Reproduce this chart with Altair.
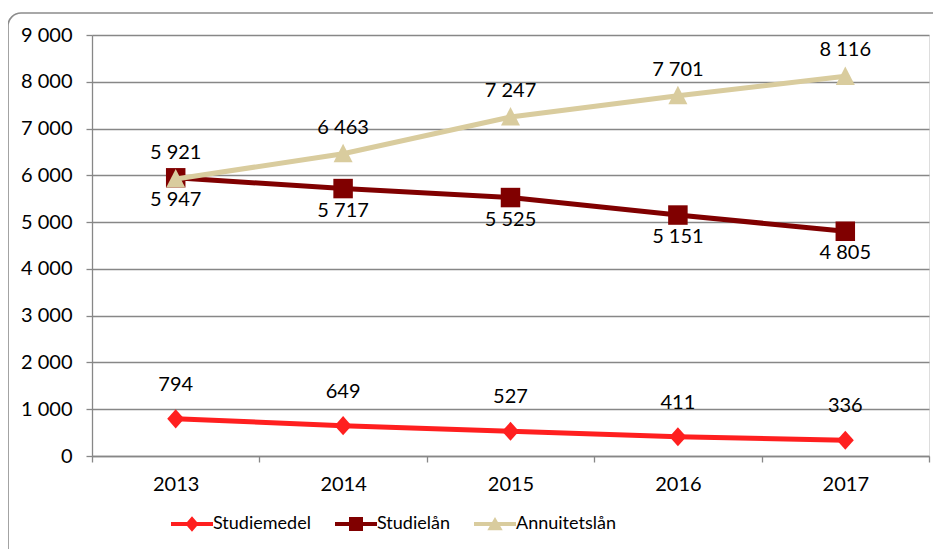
import altair as alt
import pandas as pd

years = ["2013", "2014", "2015", "2016", "2017"]
studiemedel = [794, 649, 527, 411, 336]
studielan = [5947, 5717, 5525, 5151, 4805]
annuitetslan = [5921, 6463, 7247, 7701, 8116]
series_names = ["Studiemedel", "Studielån", "Annuitetslån"]
colors = ["#FF1F1F", "#800000", "#D9CC9E"]
y_ticks = [0, 1000, 2000, 3000, 4000, 5000, 6000, 7000, 8000, 9000]

rows = []
for name, vals in zip(series_names, [studiemedel, studielan, annuitetslan]):
    for yr, v in zip(years, vals):
        rows.append({"year": yr, "series": name, "value": v,
                     "label": f"{v:,}".replace(",", " ")})
df = pd.DataFrame(rows)

FONT = "Lato"
FS = 20
GRID = "#878787"

x_enc = alt.X("year:O", title=None,
              scale=alt.Scale(type="band", domain=years, paddingInner=0, paddingOuter=0),
              axis=alt.Axis(labelAngle=0, tickBand="extent", grid=False, domainColor=GRID,
                            tickColor=GRID, tickSize=6, domainWidth=1.3, tickWidth=1.3,
                            labelPadding=12, labelFont=FONT, labelFontSize=FS,
                            labelColor="#000000"))
y_enc = alt.Y("value:Q", title=None,
              scale=alt.Scale(domain=[0, 9000], nice=False),
              axis=alt.Axis(values=y_ticks, grid=True, gridColor=GRID, gridWidth=1.3,
                            domainColor=GRID, domainWidth=1.3, tickColor=GRID, tickWidth=1.3,
                            tickSize=6, labelPadding=14, labelFont=FONT, labelFontSize=FS,
                            labelColor="#000000",
                            labelExpr="replace(format(datum.value, ','), ',', ' ')"))

point_shapes = {
    "Studiemedel": ("M0,-1.12L1,0L0,1.12L-1,0Z", 289),
    "Studielån": ("square", 380),
    "Annuitetslån": ("M-1,0.9L0,-1.05L1,0.9Z", 361),
}
label_dy = {"Studiemedel": -34, "Studielån": 22, "Annuitetslån": -26}

frame = alt.Chart(pd.DataFrame({"a": [0]})).mark_rect(
    fillOpacity=0, stroke="#8c8c8c", strokeWidth=1.6, cornerRadius=13
).encode(x=alt.value(-84), x2=alt.value(870), y=alt.value(-22), y2=alt.value(545))

layers = [frame]
for name, col in zip(series_names, colors):
    base = alt.Chart(df).transform_filter(alt.datum.series == name)
    shp, sz = point_shapes[name]
    layers.append(base.mark_line(color=col, strokeWidth=5).encode(x=x_enc, y=y_enc))
    layers.append(base.mark_point(shape=shp, size=sz, filled=True, color=col, opacity=1)
                  .encode(x=x_enc, y=y_enc))

for name in series_names:
    base = alt.Chart(df).transform_filter(alt.datum.series == name)
    layers.append(base.mark_text(dy=label_dy[name], font=FONT, fontSize=FS, color="#000000")
                  .encode(x=x_enc, y=y_enc, text="label:N"))

legend_paths = [
    "M-3,-0.3L3,-0.3L3,0.3L-3,0.3Z M0,-1.1L0.95,0L0,1.1L-0.95,0Z",
    "M-3,-0.3L3,-0.3L3,0.3L-3,0.3Z M-1,-1L1,-1L1,1L-1,1Z",
    "M-3,-0.3L3,-0.3L3,0.3L-3,0.3Z M-1.1,0.9L0,-1L1.1,0.9Z",
]
leg = alt.Legend(title=None, orient="none", legendX=77, legendY=480, direction="horizontal",
                 labelFont=FONT, labelFontSize=18, labelColor="#000000",
                 symbolSize=196, symbolOffset=14, labelOffset=12, columnPadding=22,
                 symbolStrokeWidth=0, symbolOpacity=1)
legend_layer = alt.Chart(df).transform_filter("datum.value < 0").mark_point(
    filled=True, opacity=1
).encode(
    x=x_enc, y=y_enc,
    color=alt.Color("series:N", scale=alt.Scale(domain=series_names, range=colors), legend=leg),
    shape=alt.Shape("series:N", scale=alt.Scale(domain=series_names, range=legend_paths), legend=leg),
)
layers.append(legend_layer)

chart = alt.layer(*layers).properties(
    width=837, height=421,
    autosize=alt.AutoSizeParams(type="none"),
    padding={"left": 84, "top": 27, "right": 4, "bottom": 93},
).configure_view(strokeWidth=0).configure(background="#ffffff")

chart.save("out.html", embed_options={"renderer": "svg", "actions": False})
